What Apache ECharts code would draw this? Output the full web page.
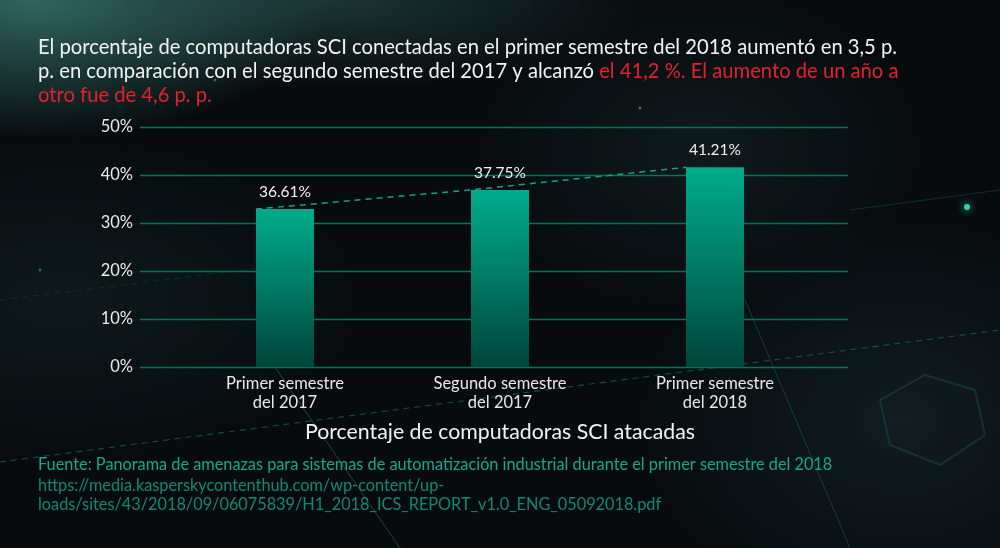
<!DOCTYPE html>
<html>
<head>
<meta charset="utf-8">
<script src="https://cdn.jsdelivr.net/npm/echarts@6/dist/echarts.min.js"></script>
<style>
html,body{margin:0;padding:0;width:1000px;height:548px;overflow:hidden;}
body{
  background:
    radial-gradient(ellipse 300px 140px at 30px 0px, rgba(70,150,140,0.65), rgba(70,150,140,0) 100%),
    radial-gradient(ellipse 320px 90px at 330px 0px, rgba(60,115,110,0.40), rgba(60,110,105,0) 100%),
    radial-gradient(ellipse 220px 160px at 700px 150px, rgba(40,70,70,0.25), rgba(40,70,70,0) 100%),
    radial-gradient(ellipse 260px 200px at 900px 420px, rgba(40,70,75,0.30), rgba(40,70,75,0) 100%),
    radial-gradient(ellipse 300px 160px at 60px 300px, rgba(30,60,60,0.30), rgba(30,60,60,0) 100%),
    #070b0e;
}
#c{width:1000px;height:548px;}
</style>
</head>
<body>
<div id="c"></div>
<script>
const categories = ['Primer semestre\ndel 2017', 'Segundo semestre\ndel 2017', 'Primer semestre\ndel 2018'];
const barHeights = [32.9, 36.9, 41.6];
const barLabels = ['36.61%', '37.75%', '41.21%'];
const yTicks = [0, 10, 20, 30, 40, 50];
const xAxisTitle = 'Porcentaje de computadoras SCI atacadas';
const headWhite1 = 'El porcentaje de computadoras SCI conectadas en el primer semestre del 2018 aumentó en 3,5 p.';
const headWhite2 = 'p. en comparación con el segundo semestre del 2017 y alcanzó ';
const headRed2 = 'el 41,2 %. El aumento de un año a';
const headRed3 = 'otro fue de 4,6 p. p.';
const source1 = 'Fuente: Panorama de amenazas para sistemas de automatización industrial durante el primer semestre del 2018';
const source2 = 'https://media.kasperskycontenthub.com/wp-content/up-\nloads/sites/43/2018/09/06075839/H1_2018_ICS_REPORT_v1.0_ENG_05092018.pdf';

const FONT = 'Lato';
const BAR_W = 58;
const chart = echarts.init(document.getElementById('c'), null, {renderer: 'canvas'});

const option = {
  backgroundColor: 'transparent',
  textStyle: {fontFamily: FONT},
  title: [{
    left: 38, top: 35, padding: 0,
    text: '{w|' + headWhite1 + '}\n{w|' + headWhite2 + '}{r|' + headRed2 + '}\n{r|' + headRed3 + '}',
    textStyle: {
      fontWeight: 'normal',
      rich: {
        w: {color: '#f2f2f2', fontSize: 20.2, fontWeight: 'normal', fontFamily: FONT, lineHeight: 24.2},
        r: {color: '#e3222b', fontSize: 20.2, fontWeight: 'normal', fontFamily: FONT, lineHeight: 24.2}
      }
    }
  }, {
    left: 38, top: 457, padding: 0,
    text: source1,
    textStyle: {color: '#16a88c', fontSize: 16.3, fontWeight: 'normal', fontFamily: FONT}
  }, {
    left: 38, top: 476, padding: 0,
    text: source2,
    textStyle: {color: '#0e8a72', fontSize: 16.3, fontWeight: 'normal', fontFamily: FONT, lineHeight: 19}
  }],
  graphic: [
    {type: 'line', silent: true, z: -10, shape: {x1: 0, y1: 462, x2: 1000, y2: 330},
     style: {stroke: 'rgba(20,140,120,0.5)', lineWidth: 1.2, lineDash: [6, 5]}},
    {type: 'line', silent: true, z: -10, shape: {x1: 0, y1: 300, x2: 260, y2: 268},
     style: {stroke: 'rgba(20,120,110,0.25)', lineWidth: 1, lineDash: [6, 5]}},
    {type: 'line', silent: true, z: -10, shape: {x1: 270, y1: 360, x2: 400, y2: 548},
     style: {stroke: 'rgba(30,150,140,0.45)', lineWidth: 1}},
    {type: 'line', silent: true, z: -10, shape: {x1: 745, y1: 300, x2: 850, y2: 548},
     style: {stroke: 'rgba(30,150,140,0.35)', lineWidth: 1}},
    {type: 'line', silent: true, z: -10, shape: {x1: 850, y1: 210, x2: 1000, y2: 190},
     style: {stroke: 'rgba(30,150,140,0.25)', lineWidth: 1}},
    {type: 'polyline', silent: true, z: -10, shape: {points: [[880, 400], [925, 375], [975, 390], [985, 435], [940, 465], [890, 445], [880, 400]]},
     style: {fill: 'none', stroke: 'rgba(30,130,125,0.25)', lineWidth: 2}},
    {type: 'circle', silent: true, z: -10, shape: {cx: 967, cy: 207, r: 3}, style: {fill: '#2fd6b0', shadowBlur: 8, shadowColor: '#2fd6b0'}},
    {type: 'circle', silent: true, z: -10, shape: {cx: 640, cy: 108, r: 1.5}, style: {fill: 'rgba(60,200,170,0.6)'}},
    {type: 'circle', silent: true, z: -10, shape: {cx: 40, cy: 270, r: 1.5}, style: {fill: 'rgba(60,200,170,0.5)'}},
    {type: 'circle', silent: true, z: -10, shape: {cx: 215, cy: 80, r: 1.5}, style: {fill: 'rgba(60,200,170,0.5)'}},
    {type: 'text', silent: true, z: 10, x: 500, y: 432,
     style: {text: xAxisTitle, fill: '#f2f2f2', font: 'normal 21.3px ' + FONT, align: 'center', verticalAlign: 'middle'}}
  ],
  grid: [
    {left: 140, right: 152, top: 127, bottom: 181},
    {left: 177.5, width: 645, top: 127, bottom: 181}
  ],
  xAxis: [
    {gridIndex: 0, type: 'category', data: [''], show: false},
    {
      gridIndex: 1, type: 'category', data: categories,
      axisLine: {show: false}, axisTick: {show: false},
      axisLabel: {color: '#e8e8e8', fontSize: 16.5, lineHeight: 19, margin: 7, fontFamily: FONT}
    }
  ],
  yAxis: [
    {
      gridIndex: 0, type: 'value', min: 0, max: 50, interval: 10,
      axisLine: {show: false}, axisTick: {show: false},
      axisLabel: {color: '#e8e8e8', fontSize: 16.5, margin: 7, fontFamily: FONT,
        formatter: v => yTicks.includes(v) ? v + '%' : ''},
      splitLine: {show: true, lineStyle: {color: '#0f6e5e', width: 1.3}}
    },
    {gridIndex: 1, type: 'value', min: 0, max: 50, interval: 10, show: false}
  ],
  series: [
    {
      type: 'bar', xAxisIndex: 1, yAxisIndex: 1,
      data: barHeights, barWidth: BAR_W,
      itemStyle: {
        color: new echarts.graphic.LinearGradient(0, 0, 0, 1, [
          {offset: 0, color: '#00ab8c'},
          {offset: 0.5, color: '#007a64'},
          {offset: 1, color: '#00443a'}
        ])
      },
      label: {
        show: true, position: 'top', distance: 9,
        color: '#f0f0f0', fontSize: 15.5, fontFamily: FONT,
        formatter: p => barLabels[p.dataIndex]
      },
      z: 3
    },
    {
      type: 'custom', xAxisIndex: 1, yAxisIndex: 1, z: 4,
      data: [[0, 0]], silent: true,
      renderItem: (params, api) => {
        const pts = barHeights.map((v, i) => {
          const p = api.coord([i, v]);
          return [p[0] - BAR_W / 2, p[1]];
        });
        return {
          type: 'polyline',
          shape: {points: pts},
          style: {fill: 'none', stroke: '#13a387', lineWidth: 1.5, lineDash: [6, 5]}
        };
      }
    }
  ]
};
chart.setOption(option);
</script>
</body>
</html>
